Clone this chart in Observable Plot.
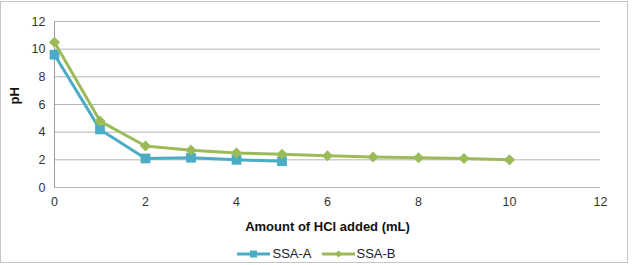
<!DOCTYPE html>
<html>
<head>
<meta charset="utf-8">
<script src="https://cdn.jsdelivr.net/npm/d3@7"></script>
<script src="https://cdn.jsdelivr.net/npm/@observablehq/plot@0.6"></script>
<style>
  body { margin: 0; background: #fff; font-family: "Liberation Sans", Arial, sans-serif; }
  #wrap { position: relative; width: 633px; height: 265px; }
  #frame { position: absolute; left: 0; top: 1px; width: 628px; height: 262px; border: 1px solid #c4c4c4; box-sizing: border-box; }
  #chart { position: absolute; left: 0; top: 0; }
  #legend { position: absolute; left: 0; top: 246px; width: 633px; display: flex; justify-content: center; gap: 10px; font-size: 13px; color: #222; }
  .item { display: flex; align-items: center; gap: 2px; }
</style>
</head>
<body>
<div id="wrap">
  <div id="frame"></div>
  <div id="chart"></div>
  <div id="legend"></div>
</div>
<script>
// HCl volume added (mL) and measured pH for each sample
const volA = [0, 1, 2, 3, 4, 5];
const phA = [9.6, 4.2, 2.1, 2.15, 2.0, 1.9];
const volB = [0, 1, 2, 3, 4, 5, 6, 7, 8, 9, 10];
const phB = [10.5, 4.8, 3.0, 2.7, 2.5, 2.4, 2.3, 2.2, 2.15, 2.1, 2.0];
const seriesNames = ["SSA-A", "SSA-B"];
const seriesColors = ["#4bacc6", "#9bbb59"];
const xTicks = [0, 2, 4, 6, 8, 10, 12];
const yTicks = [0, 2, 4, 6, 8, 10, 12];

const rowsA = volA.map((v, i) => ({ vol: v, ph: phA[i], s: seriesNames[0] }));
const rowsB = volB.map((v, i) => ({ vol: v, ph: phB[i], s: seriesNames[1] }));

const chart = Plot.plot({
  width: 633,
  height: 240,
  marginLeft: 54,
  marginRight: 33,
  marginTop: 21,
  marginBottom: 53,
  style: { fontFamily: "Liberation Sans, Arial, sans-serif", fontSize: "12.5px", color: "#333", background: "transparent" },
  x: { domain: [0, 12], ticks: xTicks, tickSize: 0, tickPadding: 10, label: null },
  y: { domain: [0, 12], ticks: yTicks, tickSize: 0, tickPadding: 9, label: null },
  marks: [
    Plot.gridY(yTicks, { stroke: "#b4b4b4", strokeOpacity: 1, strokeWidth: 1 }),
    Plot.ruleX([0], { y1: 0, y2: 12, stroke: "#9a9a9a" }),
    Plot.axisX({ ticks: xTicks, tickSize: 0, tickPadding: 10, label: null }),
    Plot.axisY({ ticks: yTicks, tickSize: 0, tickPadding: 9, label: null }),
    Plot.line(rowsA, { x: "vol", y: "ph", stroke: seriesColors[0], strokeWidth: 3 }),
    Plot.dot(rowsA, { x: "vol", y: "ph", symbol: "square", r: 5.5, fill: seriesColors[0] }),
    Plot.line(rowsB, { x: "vol", y: "ph", stroke: seriesColors[1], strokeWidth: 3 }),
    Plot.dot(rowsB, { x: "vol", y: "ph", symbol: "diamond2", r: 5, fill: seriesColors[1] }),
    Plot.text(["Amount of HCl added (mL)"], { frameAnchor: "bottom", dy: 43, fontWeight: "bold", fontSize: 13, fill: "#111" }),
    Plot.text(["pH"], { frameAnchor: "left", dx: -40, rotate: -90, fontWeight: "bold", fontSize: 13, fill: "#111" })
  ]
});
document.getElementById("chart").appendChild(chart);

// Legend entries: line swatch with its marker, then the series name
const legend = document.getElementById("legend");
const markerPaths = [
  "M13,-3.5h7v7h-7z",
  "M16.5,-3.5l3.5,3.5l-3.5,3.5l-3.5,-3.5z"
];
seriesNames.forEach((name, i) => {
  const item = document.createElement("div");
  item.className = "item";
  item.innerHTML =
    `<svg width="33" height="12" viewBox="0 -6 33 12">` +
    `<line x1="0" x2="33" y1="0" y2="0" stroke="${seriesColors[i]}" stroke-width="3"/>` +
    `<path d="${markerPaths[i]}" fill="${seriesColors[i]}"/></svg>` +
    `<span>${name}</span>`;
  legend.appendChild(item);
});
</script>
</body>
</html>
